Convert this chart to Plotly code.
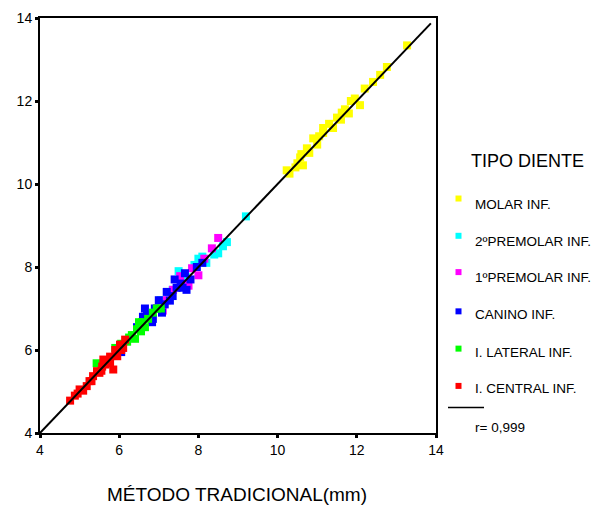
import plotly.graph_objects as go

# Tooth groups: measurement by traditional method (x) vs. digital method (y), in mm
groups = ["MOLAR INF.", "2º PREMOLAR INF.", "1º PREMOLAR INF.",
          "CANINO INF.", "I. LATERAL INF.", "I. CENTRAL INF."]
colors = ["#FFFF00", "#00FFFF", "#FF00FF", "#0000FF", "#00FF00", "#FF0000"]

molar_x = [10.23, 10.30, 10.45, 10.50, 10.57, 10.64, 10.74, 10.80, 10.90, 11.00, 11.15, 11.15,
           11.30, 11.40, 11.50, 11.60, 11.70, 11.80, 11.95, 12.08, 12.20, 12.41, 12.59, 12.76,
           13.27, 10.60, 11.05, 11.62, 11.85]
molar_y = [10.33, 10.25, 10.40, 10.50, 10.64, 10.45, 10.86, 10.75, 11.10, 10.95, 11.35, 11.23,
           11.45, 11.35, 11.60, 11.55, 11.80, 11.70, 12.06, 11.90, 12.30, 12.46, 12.63, 12.82,
           13.34, 10.72, 11.15, 11.72, 12.00]

premolar2_x = [7.05, 7.35, 7.50, 7.70, 7.90, 8.00, 8.20, 8.40, 8.50, 8.62, 8.72, 9.20, 7.25, 8.10]
premolar2_y = [7.20, 7.45, 7.90, 7.75, 8.05, 8.20, 8.10, 8.30, 8.33, 8.50, 8.60, 9.22, 7.35, 8.25]

premolar1_x = [6.95, 7.20, 7.36, 7.54, 7.65, 7.84, 8.00, 8.15, 8.34, 8.50, 7.75, 7.10]
premolar1_y = [7.00, 7.20, 7.45, 7.78, 7.60, 7.97, 7.80, 8.20, 8.45, 8.70, 7.55, 6.95]

canine_x = [6.05, 6.45, 6.65, 6.70, 6.83, 6.85, 6.90, 7.00, 7.08, 7.20, 7.28, 7.40,
            7.45, 7.60, 7.66, 7.70, 7.96, 8.10, 7.15, 7.35, 7.55, 7.80, 6.60]
canine_y = [5.95, 6.55, 7.00, 6.85, 6.67, 6.75, 7.00, 7.20, 6.90, 7.40, 7.19, 7.70,
            7.50, 7.50, 7.85, 7.45, 8.00, 8.10, 7.10, 7.30, 7.60, 7.70, 6.80]

lateral_x = [5.43, 5.90, 6.05, 6.20, 6.32, 6.40, 6.45, 6.50, 6.58, 6.65, 6.73, 6.85, 6.95, 7.05,
             6.25, 6.55]
lateral_y = [5.68, 6.05, 6.15, 6.20, 6.36, 6.27, 6.50, 6.67, 6.67, 6.55, 6.75, 6.90, 7.00, 7.00,
             6.30, 6.45]

central_x = [4.76, 4.88, 5.00, 5.09, 5.18, 5.25, 5.34, 5.44, 5.50, 5.57, 5.60, 5.65,
             5.77, 5.77, 5.85, 5.90, 6.02, 6.10, 6.15, 5.95, 5.30, 5.55, 5.70, 6.05, 4.95]
central_y = [4.78, 4.90, 5.05, 5.02, 5.13, 5.25, 5.37, 5.49, 5.45, 5.60, 5.77, 5.65,
             5.84, 5.68, 5.53, 6.00, 6.13, 6.05, 6.25, 5.85, 5.25, 5.50, 5.75, 6.00, 4.95]

series_x = [molar_x, premolar2_x, premolar1_x, canine_x, lateral_x, central_x]
series_y = [molar_y, premolar2_y, premolar1_y, canine_y, lateral_y, central_y]

# Fitted line (slope ~1) and correlation label
fit_x = [4.0, 13.87]
fit_slope, fit_intercept = 1.0, 0.0
r_label = "r= 0,999"

axis_ticks = [4, 6, 8, 10, 12, 14]

FONT = "Arial, 'Liberation Sans', sans-serif"

# Plot area in pixels
L, R, T, B = 40, 436, 10, 433
W, H = 600, 510

def px(xp):
    return (xp - L) / (R - L)

def py(yp):
    return (B - yp) / (B - T)

fig = go.Figure()

for name, col, xs, ys in zip(groups, colors, series_x, series_y):
    fig.add_trace(go.Scatter(
        x=xs, y=ys, mode="markers", name=name,
        marker=dict(symbol="square", size=8, color=col, line=dict(width=0)),
        showlegend=False,
    ))

fig.add_trace(go.Scatter(
    x=fit_x, y=[fit_slope * v + fit_intercept for v in fit_x],
    mode="lines", line=dict(color="black", width=2), showlegend=False,
))

axis_common = dict(
    range=[4, 14], tickvals=axis_ticks, ticktext=[str(t) for t in axis_ticks],
    showgrid=False, zeroline=False, showline=True, linecolor="black", linewidth=2,
    mirror=True, ticks="outside", ticklen=3, tickwidth=3, tickcolor="black",
    tickfont=dict(family=FONT, size=14, color="black"),
)

fig.update_layout(
    width=W, height=H,
    margin=dict(l=L, r=W - R, t=T, b=H - B),
    paper_bgcolor="white", plot_bgcolor="white",
    xaxis=dict(**axis_common),
    yaxis=dict(**axis_common),
    font=dict(family=FONT, color="black"),
)

annotations = [
    dict(text="MÉTODO TRADICIONAL(mm)", x=px(237), y=py(496), xref="paper", yref="paper",
         showarrow=False, font=dict(size=19), xanchor="center", yanchor="middle"),
    dict(text="TIPO DIENTE", x=px(469), y=py(156), xref="paper", yref="paper",
         showarrow=False, font=dict(size=18), xanchor="left", yanchor="middle"),
]
shapes = []

legend_text_y = [200, 238, 274, 312, 351, 388]
legend_mark_y = [194, 232, 269, 309, 347, 385]
for name, col, ty, my in zip(groups, colors, legend_text_y, legend_mark_y):
    annotations.append(dict(
        text=name.replace("º ", "º"), x=px(473), y=py(ty), xref="paper", yref="paper",
        showarrow=False, font=dict(size=13.5), xanchor="left", yanchor="middle"))
    shapes.append(dict(
        type="rect", xref="paper", yref="paper",
        xsizemode="pixel", ysizemode="pixel",
        xanchor=px(458.5), yanchor=py(my),
        x0=-3, x1=3, y0=-3, y1=3,
        fillcolor=col, line=dict(width=0)))

shapes.append(dict(type="line", xref="paper", yref="paper",
                   x0=px(448), x1=px(484), y0=py(407), y1=py(407),
                   line=dict(color="black", width=1.5)))
annotations.append(dict(text=r_label, x=px(473), y=py(427), xref="paper", yref="paper",
                        showarrow=False, font=dict(size=13.5), xanchor="left", yanchor="middle"))

fig.update_layout(annotations=annotations, shapes=shapes)

fig.write_html("out.html")
